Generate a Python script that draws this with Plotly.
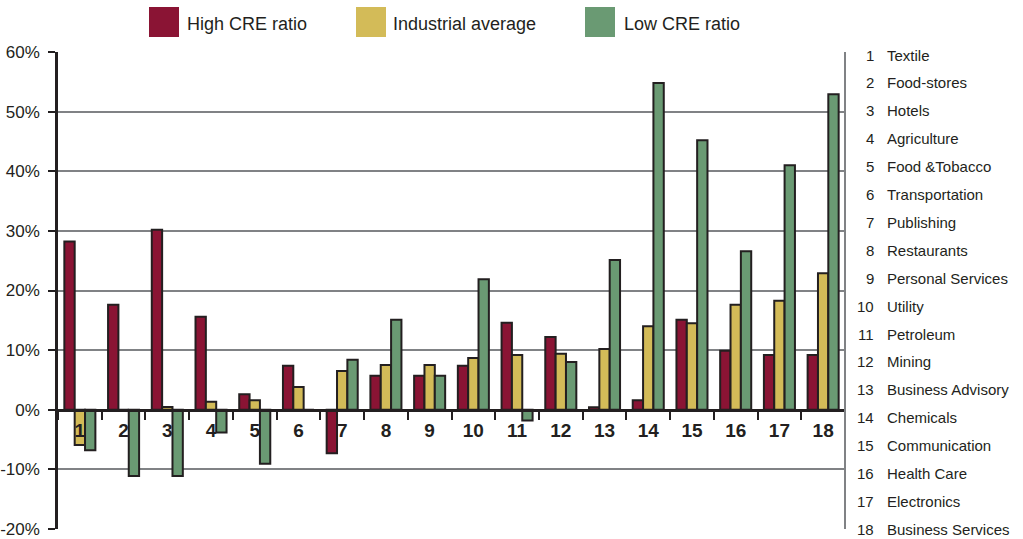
import plotly.graph_objects as go

# Sector numbers and names
categories = [str(i) for i in range(1, 19)]
sector_names = [
    "Textile", "Food-stores", "Hotels", "Agriculture", "Food &Tobacco",
    "Transportation", "Publishing", "Restaurants", "Personal Services",
    "Utility", "Petroleum", "Mining", "Business Advisory", "Chemicals",
    "Communication", "Health Care", "Electronics", "Business Services",
]

# Returns (%) per sector
high_cre = [28.2, 17.6, 30.2, 15.6, 2.6, 7.4, -7.3, 5.7, 5.7, 7.4,
            14.6, 12.2, 0.4, 1.6, 15.1, 9.9, 9.2, 9.2]
industrial_avg = [-5.9, 0.0, 0.45, 1.35, 1.6, 3.8, 6.5, 7.5, 7.5, 8.7,
                  9.2, 9.4, 10.2, 14.0, 14.5, 17.6, 18.3, 22.9]
low_cre = [-6.8, -11.1, -11.1, -3.8, -9.05, 0.0, 8.4, 15.1, 5.7, 21.9,
           -1.8, 8.0, 25.1, 54.8, 45.2, 26.6, 41.0, 52.9]

y_ticks = [-20, -10, 0, 10, 20, 30, 40, 50, 60]
y_tick_text = [f"{v}%" for v in y_ticks]

series = [
    ("High CRE ratio", high_cre, "#8a1434"),
    ("Industrial average", industrial_avg, "#d3bb58"),
    ("Low CRE ratio", low_cre, "#6a9a73"),
]

INK = "#231f20"
GRID = "#808285"
FONT = "Liberation Sans, Arial, sans-serif"

W, H = 1023, 539
L, R, T, B = 58, 178, 52, 10
PW, PH = W - L - R, H - T - B


def px_x(x):
    return (x - L) / PW


def px_y(y):
    return (H - B - y) / PH


fig = go.Figure()
for name, vals, color in series:
    fig.add_trace(go.Bar(
        x=categories, y=vals, name=name,
        marker=dict(color=color, line=dict(color=INK, width=2)),
        showlegend=False,
    ))

shapes = []
annotations = []

# Legend swatches and labels along the top
legend_items = [(149, 185), (356, 391), (585, 622)]
for (sx, tx), (name, _, color) in zip(legend_items, series):
    shapes.append(dict(type="rect", xref="paper", yref="paper",
                       x0=px_x(sx), x1=px_x(sx + 30), y0=px_y(37), y1=px_y(7),
                       fillcolor=color, line=dict(width=0)))
    annotations.append(dict(xref="paper", yref="paper", x=px_x(tx), y=px_y(24),
                            text=name, showarrow=False, xanchor="left",
                            yanchor="middle",
                            font=dict(family=FONT, size=18, color=INK)))

# Right-hand key of sector numbers
for i, (num, nm) in enumerate(zip(categories, sector_names)):
    yc = px_y(55 + i * 27.9)
    annotations.append(dict(xref="paper", yref="paper", x=px_x(876), y=yc,
                            text=num, showarrow=False, xanchor="right",
                            yanchor="middle",
                            font=dict(family=FONT, size=15, color=INK)))
    annotations.append(dict(xref="paper", yref="paper", x=px_x(885), y=yc,
                            text=nm, showarrow=False, xanchor="left",
                            yanchor="middle",
                            font=dict(family=FONT, size=15, color=INK)))

# Right border of the plot area
shapes.append(dict(type="line", xref="paper", yref="paper",
                   x0=1, x1=1, y0=0, y1=1, line=dict(color=GRID, width=2)))

fig.update_layout(
    width=W, height=H,
    margin=dict(l=L, r=R, t=T, b=B),
    paper_bgcolor="white", plot_bgcolor="white",
    barmode="group", bargap=0.29, bargroupgap=0.0,
    shapes=shapes, annotations=annotations,
    xaxis=dict(
        type="category", anchor="free", position=0.25, automargin=False,
        showline=True, linecolor=INK, linewidth=2.5,
        ticks="outside", tickson="boundaries", ticklen=8, tickwidth=2,
        tickcolor=INK, showgrid=False, ticklabelstandoff=3,
        tickfont=dict(family=FONT, size=19, color=INK, weight="bold"),
    ),
    yaxis=dict(
        range=[-20, 60], tickvals=y_ticks, ticktext=y_tick_text,
        automargin=False,
        showline=True, linecolor=INK, linewidth=2.5,
        ticks="outside", ticklen=7, tickwidth=2, tickcolor=INK,
        showgrid=True, gridcolor=GRID, gridwidth=2, zeroline=False,
        ticklabelstandoff=5,
        tickfont=dict(family=FONT, size=17, color=INK),
    ),
)

fig.write_html("out.html")
